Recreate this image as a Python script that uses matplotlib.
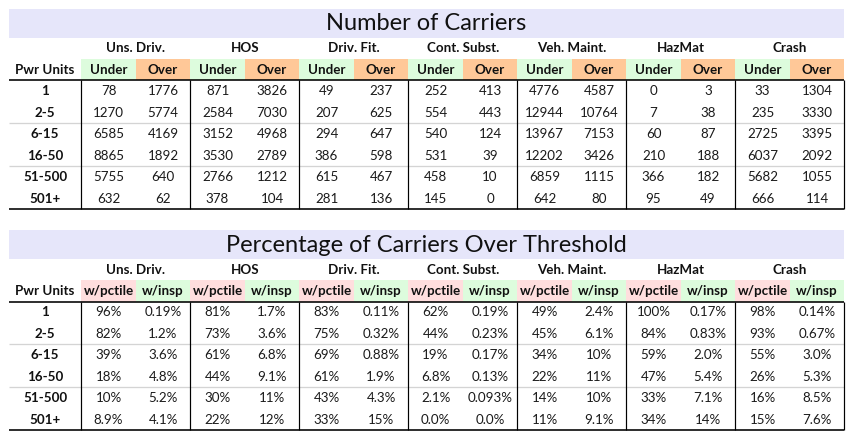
import math
import matplotlib
matplotlib.use("Agg")
import matplotlib.pyplot as plt
from matplotlib.patches import Rectangle

plt.rcParams['font.family'] = ['Lato', 'DejaVu Sans']

categories = ["Uns. Driv.", "HOS", "Driv. Fit.", "Cont. Subst.", "Veh. Maint.", "HazMat", "Crash"]
pwr_units = ["1", "2-5", "6-15", "16-50", "51-500", "501+"]

under = [
    [78, 1270, 6585, 8865, 5755, 632],
    [871, 2584, 3152, 3530, 2766, 378],
    [49, 207, 294, 386, 615, 281],
    [252, 554, 540, 531, 458, 145],
    [4776, 12944, 13967, 12202, 6859, 642],
    [0, 7, 60, 210, 366, 95],
    [33, 235, 2725, 6037, 5682, 666],
]
over = [
    [1776, 5774, 4169, 1892, 640, 62],
    [3826, 7030, 4968, 2789, 1212, 104],
    [237, 625, 647, 598, 467, 136],
    [413, 443, 124, 39, 10, 0],
    [4587, 10764, 7153, 3426, 1115, 80],
    [3, 38, 87, 188, 182, 49],
    [1304, 3330, 3395, 2092, 1055, 114],
]
pct_pctile = [
    [96, 82, 39, 18, 10, 8.9],
    [81, 73, 61, 44, 30, 22],
    [83, 75, 69, 61, 43, 33],
    [62, 44, 19, 6.8, 2.1, 0.0],
    [49, 45, 34, 22, 14, 11],
    [100, 84, 59, 47, 33, 34],
    [98, 93, 55, 26, 16, 15],
]
pct_insp = [
    [0.19, 1.2, 3.6, 4.8, 5.2, 4.1],
    [1.7, 3.6, 6.8, 9.1, 11, 12],
    [0.11, 0.32, 0.88, 1.9, 4.3, 15],
    [0.19, 0.23, 0.17, 0.13, 0.093, 0.0],
    [2.4, 6.1, 10, 11, 10, 9.1],
    [0.17, 0.83, 2.0, 5.4, 7.1, 14],
    [0.14, 0.67, 3.0, 5.3, 8.5, 7.6],
]

titles = ["Number of Carriers", "Percentage of Carriers Over Threshold"]
sub_labels = [["Under", "Over"], ["w/pctile", "w/insp"]]
sub_colors = [["#ddfcdd", "#ffc898"], ["#ffdede", "#ddfcdd"]]


def fmt_pct(v):
    if v == 0:
        return "0.0%"
    d = max(0, 1 - int(math.floor(math.log10(abs(v)))))
    return f"{v:.{d}f}%"


W, H = 854, 436
fig = plt.figure(figsize=(W / 100, H / 100), dpi=100)
ax = fig.add_axes([0, 0, 1, 1])
ax.set_xlim(0, W)
ax.set_ylim(H, 0)
ax.axis("off")

left, right = 9, 844
first_w = 72.3
sub_w = 54.5
row_h = 21.47
px = 0.72  # points per pixel
fs = 9.6
title_fs = 17

tables = [
    (0, [[str(v) for v in col] for col in under], [[str(v) for v in col] for col in over]),
    (221, [[fmt_pct(v) for v in col] for col in pct_pctile], [[fmt_pct(v) for v in col] for col in pct_insp]),
]

for ti, (off, colA, colB) in enumerate(tables):
    # title band
    ax.add_patch(Rectangle((left, 9.3 + off), right - left, 28.4, facecolor="#e6e6fa", edgecolor="none"))
    ax.text((left + right) / 2, 24 + off, titles[ti], ha="center", va="center",
            fontsize=title_fs, color="#111111")
    gx0 = left + first_w
    head_y = 80.5 + off
    # group headers and subheaders
    for g, cat in enumerate(categories):
        x0 = gx0 + g * 2 * sub_w
        ax.text(x0 + sub_w, 48.5 + off, cat, ha="center", va="center", fontsize=fs,
                fontweight="bold", color="#111111")
        for k in range(2):
            sx = x0 + k * sub_w
            ax.add_patch(Rectangle((sx, 59.3 + off), sub_w, 21.2, facecolor=sub_colors[ti][k],
                                   edgecolor="none"))
            ax.text(sx + sub_w / 2, 70 + off, sub_labels[ti][k], ha="center", va="center",
                    fontsize=fs, fontweight="bold", color="#111111")
    ax.text(left + first_w / 2, 70 + off, "Pwr Units", ha="center", va="center", fontsize=fs,
            fontweight="bold", color="#111111")
    # data rows
    for r, pu in enumerate(pwr_units):
        yc = head_y + (r + 0.5) * row_h
        ax.text(left + first_w / 2, yc, pu, ha="center", va="center", fontsize=fs,
                fontweight="bold", color="#111111")
        for g in range(len(categories)):
            x0 = gx0 + g * 2 * sub_w
            ax.text(x0 + sub_w / 2, yc, colA[g][r], ha="center", va="center", fontsize=fs,
                    color="#1a1a1a")
            ax.text(x0 + 1.5 * sub_w, yc, colB[g][r], ha="center", va="center", fontsize=fs,
                    color="#1a1a1a")
    bottom = head_y + 6 * row_h
    # separator lines
    for r in (2, 4):
        ax.hlines(head_y + r * row_h, left, right, color="#d4d4d4", linewidth=1.3 * px)
    for g in range(len(categories) + 1):
        ax.vlines(gx0 + g * 2 * sub_w, head_y, bottom, color="black", linewidth=1.2 * px)
    ax.hlines(head_y, left, right, color="black", linewidth=1.6 * px)
    ax.hlines(bottom, left, right, color="black", linewidth=1.6 * px)

fig.savefig("out.png", dpi=100)
